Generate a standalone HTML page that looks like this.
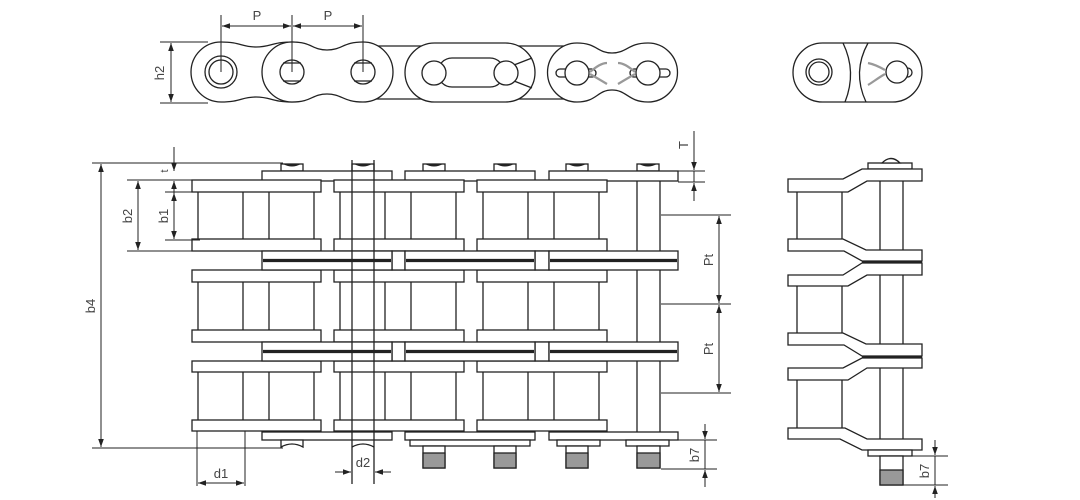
<!DOCTYPE html>
<html><head><meta charset="utf-8"><style>
html,body{margin:0;padding:0;background:#fff;width:1080px;height:500px;overflow:hidden}
svg{display:block}
text{font-family:"Liberation Sans",sans-serif;font-size:13px;fill:#444}
</style></head><body>
<svg width="1080" height="500" viewBox="0 0 1080 500" xmlns="http://www.w3.org/2000/svg">
<defs>
<marker id="a" viewBox="0 0 10 10" refX="10" refY="5" markerWidth="8" markerHeight="8" orient="auto-start-reverse" markerUnits="userSpaceOnUse"><path d="M0,1.5 L10,5 L0,8.5 Z" fill="#222"/></marker>
</defs>
<g stroke="#222" stroke-width="1.3" fill="#fff">

<!-- ===== TOP VIEW ===== -->
<!-- background links -->
<path d="M363,46 L434,46 L434,99 L363,99 Z"/>
<path d="M506,46 L577,46 L577,99 L506,99 Z"/>
<!-- link A -->
<path d="M221,42 C241,42 241,47 256,47 C271,47 272,42 292,42 A30,30 0 0 1 292,102 C272,102 271,97 256,97 C241,97 241,102 221,102 A30,30 0 0 1 221,42 Z"/>
<!-- link B -->
<path d="M292,42 C312,42 312,50 327,50 C342,50 343,42 363,42 A30,30 0 0 1 363,102 C343,102 342,94 327,94 C312,94 312,102 292,102 A30,30 0 0 1 292,42 Z"/>
<!-- stadium -->
<rect x="405" y="43" width="130" height="59" rx="29.5"/>
<rect x="438" y="58" width="66" height="29" rx="14"/>
<line x1="514" y1="65" x2="532" y2="58"/><line x1="514" y1="81" x2="532" y2="88"/>
<circle cx="434" cy="73" r="12"/><circle cx="506" cy="73" r="12"/>
<!-- link D -->
<path d="M577,43 C597,43 597,53 612,53 C627,53 628,43 648,43 A29.5,29.5 0 0 1 648,102 C628,102 627,90 612,90 C597,90 597,102 577,102 A29.5,29.5 0 0 1 577,43 Z"/>
<rect x="556" y="69" width="40" height="8" rx="4"/>
<rect x="630" y="69" width="40" height="8" rx="4"/>
<circle cx="577" cy="73" r="12"/><circle cx="648" cy="73" r="12"/>
<path d="M590,72 C597,66 602,63 607,63 M590,74 C597,78 602,81 607,84" fill="none" stroke="#999" stroke-width="2.2"/>
<path d="M635,72 C628,66 623,63 618,63 M635,74 C628,78 623,81 618,84" fill="none" stroke="#999" stroke-width="2.2"/>
<!-- holes link A/B -->
<circle cx="221" cy="72" r="16"/><circle cx="221" cy="72" r="12"/>
<circle cx="292" cy="72" r="12"/><circle cx="363" cy="72" r="12"/>
<line x1="283" y1="63" x2="301" y2="63"/><line x1="283" y1="81" x2="301" y2="81"/>
<line x1="354" y1="63" x2="372" y2="63"/><line x1="354" y1="81" x2="372" y2="81"/>
<!-- right piece -->
<rect x="793" y="43" width="129" height="59" rx="29.5"/>
<circle cx="819" cy="72" r="13"/><circle cx="819" cy="72" r="10"/>
<path d="M843,43 Q857,72 845,102 M868,43 Q852,72 866,102" fill="none"/>
<rect x="896" y="68" width="16" height="9" rx="4.5"/>
<circle cx="897" cy="72" r="11"/>
<path d="M885,70 C878,66 873,64 868,63 M885,74 C878,78 873,82 868,85" fill="none" stroke="#999" stroke-width="2.2"/>

<!-- top dims -->
<g fill="none" stroke-width="1">
<line x1="221" y1="15" x2="221" y2="72"/><line x1="292" y1="15" x2="292" y2="72"/><line x1="363" y1="15" x2="363" y2="72"/>
<line x1="222" y1="26" x2="291" y2="26" marker-start="url(#a)" marker-end="url(#a)"/>
<line x1="293" y1="26" x2="362" y2="26" marker-start="url(#a)" marker-end="url(#a)"/>
<line x1="160" y1="42" x2="208" y2="42"/><line x1="160" y1="103" x2="208" y2="103"/>
<line x1="171" y1="43" x2="171" y2="102" marker-start="url(#a)" marker-end="url(#a)"/>
</g>

<!-- ===== MAIN VIEW ===== -->
<!-- right pin -->
<line x1="637" y1="171" x2="637" y2="440"/><line x1="660" y1="171" x2="660" y2="440"/>
<!-- pin heads top -->
<g>
<rect x="281" y="164" width="22" height="7"/><rect x="352" y="164" width="22" height="7"/>
<rect x="423" y="164" width="22" height="7"/><rect x="494" y="164" width="22" height="7"/>
<rect x="566" y="164" width="22" height="7"/><rect x="637" y="164" width="22" height="7"/>
</g>
<g fill="#222" stroke="none">
<path d="M283,164 Q292,169 301,164 Z"/><path d="M354,164 Q363,169 372,164 Z"/><path d="M425,164 Q434,169 443,164 Z"/>
<path d="M496,164 Q505,169 514,164 Z"/><path d="M568,164 Q577,169 586,164 Z"/><path d="M639,164 Q648,169 657,164 Z"/>
</g>
<!-- top outer plates -->
<rect x="262" y="171" width="130" height="10"/><rect x="405" y="171" width="130" height="10"/><rect x="549" y="171" width="129" height="10"/>
<!-- rows of inner plates -->
<g id="row1">
<rect x="192" y="180" width="129" height="12"/><rect x="334" y="180" width="130" height="12"/><rect x="477" y="180" width="130" height="12"/>
<rect x="192" y="239" width="129" height="12"/><rect x="334" y="239" width="130" height="12"/><rect x="477" y="239" width="130" height="12"/>
<path d="M198,192V239M243,192V239M269,192V239M314,192V239M340,192V239M385,192V239M411,192V239M456,192V239M483,192V239M528,192V239M554,192V239M599,192V239" fill="none"/>
</g>
<g>
<rect x="192" y="270" width="129" height="12"/><rect x="334" y="270" width="130" height="12"/><rect x="477" y="270" width="130" height="12"/>
<rect x="192" y="330" width="129" height="12"/><rect x="334" y="330" width="130" height="12"/><rect x="477" y="330" width="130" height="12"/>
<path d="M198,282V330M243,282V330M269,282V330M314,282V330M340,282V330M385,282V330M411,282V330M456,282V330M483,282V330M528,282V330M554,282V330M599,282V330" fill="none"/>
</g>
<g>
<rect x="192" y="361" width="129" height="11"/><rect x="334" y="361" width="130" height="11"/><rect x="477" y="361" width="130" height="11"/>
<rect x="192" y="420" width="129" height="11"/><rect x="334" y="420" width="130" height="11"/><rect x="477" y="420" width="130" height="11"/>
<path d="M198,372V420M243,372V420M269,372V420M314,372V420M340,372V420M385,372V420M411,372V420M456,372V420M483,372V420M528,372V420M554,372V420M599,372V420" fill="none"/>
</g>
<!-- junction outer plates -->
<g>
<rect x="392" y="251" width="13" height="19"/><rect x="535" y="251" width="14" height="19"/>
<rect x="262" y="251" width="130" height="19"/><rect x="405" y="251" width="130" height="19"/><rect x="549" y="251" width="129" height="19"/>
<rect x="392" y="342" width="13" height="19"/><rect x="535" y="342" width="14" height="19"/>
<rect x="262" y="342" width="130" height="19"/><rect x="405" y="342" width="130" height="19"/><rect x="549" y="342" width="129" height="19"/>
</g>
<g stroke-width="3.2">
<path d="M263,260.5H391M406,260.5H534M550,260.5H677M263,351.5H391M406,351.5H534M550,351.5H677"/>
</g>
<!-- bottom outer plates -->
<rect x="262" y="432" width="130" height="8"/><rect x="405" y="432" width="130" height="8"/><rect x="549" y="432" width="129" height="8"/>
<!-- bottom small plates & pin ends -->
<rect x="410" y="440" width="120" height="6"/><rect x="557" y="440" width="43" height="6"/><rect x="626" y="440" width="43" height="6"/>
<rect x="423" y="446" width="22" height="22"/><rect x="494" y="446" width="22" height="22"/><rect x="566" y="446" width="22" height="22"/><rect x="637" y="446" width="23" height="22"/>
<g fill="#999"><rect x="423" y="453" width="22" height="15"/><rect x="494" y="453" width="22" height="15"/><rect x="566" y="453" width="22" height="15"/><rect x="637" y="453" width="23" height="15"/></g>
<path d="M281,447 L281,440 L303,440 L303,447 Q292,441 281,447 Z"/>
<path d="M352,447 Q363,441 374,447"/>

<!-- d2 lines -->
<g fill="none" stroke-width="1.3">
<line x1="352" y1="160" x2="352" y2="484"/><line x1="374" y1="160" x2="374" y2="484"/>
</g>

<!-- main dims -->
<g fill="none" stroke-width="1">
<line x1="92" y1="163" x2="283" y2="163"/>
<line x1="92" y1="448" x2="283" y2="448"/>
<line x1="101" y1="164" x2="101" y2="447" marker-start="url(#a)" marker-end="url(#a)"/>
<line x1="127" y1="180" x2="192" y2="180"/><line x1="127" y1="251" x2="192" y2="251"/>
<line x1="138" y1="181" x2="138" y2="250" marker-start="url(#a)" marker-end="url(#a)"/>
<line x1="165" y1="192" x2="200" y2="192"/><line x1="165" y1="240" x2="200" y2="240"/>
<line x1="174" y1="193" x2="174" y2="239" marker-start="url(#a)" marker-end="url(#a)"/>
<line x1="174" y1="147" x2="174" y2="171" marker-end="url(#a)"/>
<line x1="174" y1="181" x2="174" y2="192"/>
<line x1="174" y1="193" x2="174" y2="181" marker-end="url(#a)"/>
<line x1="197" y1="431" x2="197" y2="486"/><line x1="245" y1="431" x2="245" y2="486"/>
<line x1="198" y1="483" x2="244" y2="483" marker-start="url(#a)" marker-end="url(#a)"/>
<line x1="335" y1="472" x2="351" y2="472" marker-end="url(#a)"/>
<line x1="391" y1="472" x2="375" y2="472" marker-end="url(#a)"/>
<!-- T -->
<line x1="678" y1="171" x2="705" y2="171"/><line x1="678" y1="182" x2="705" y2="182"/>
<line x1="694" y1="131" x2="694" y2="170" marker-end="url(#a)"/>
<line x1="694" y1="201" x2="694" y2="183" marker-end="url(#a)"/>
<line x1="694" y1="171" x2="694" y2="182"/>
<!-- Pt -->
<line x1="661" y1="215" x2="731" y2="215"/><line x1="661" y1="304" x2="731" y2="304"/><line x1="661" y1="393" x2="731" y2="393"/>
<line x1="719" y1="216" x2="719" y2="303" marker-start="url(#a)" marker-end="url(#a)"/>
<line x1="719" y1="305" x2="719" y2="392" marker-start="url(#a)" marker-end="url(#a)"/>
<!-- b7 main -->
<line x1="669" y1="440" x2="717" y2="440"/><line x1="661" y1="469" x2="717" y2="469"/>
<line x1="705" y1="424" x2="705" y2="439" marker-end="url(#a)"/>
<line x1="705" y1="487" x2="705" y2="470" marker-end="url(#a)"/>
<line x1="705" y1="440" x2="705" y2="469"/>
</g>

<!-- ===== SIDE VIEW ===== -->
<line x1="880" y1="169" x2="880" y2="456"/><line x1="903" y1="169" x2="903" y2="456"/>
<path d="M797,192V239M842,192V239M797,286V333M842,286V333M797,380V428M842,380V428" fill="none"/>
<rect x="868" y="163" width="44" height="6"/>
<path d="M882,163 Q891,154 900,163 Z"/>
<path d="M788,179 L843,179 L862,169 L922,169 L922,181 L867,181 L848,192 L788,192 Z"/>
<path d="M788,239 L843,239 L866,250 L922,250 L922,261 L862,261 L844,251 L788,251 Z"/>
<path d="M862,263 L922,263 L922,275 L867,275 L848,286 L788,286 L788,275 L843,275 Z"/>
<path d="M788,333 L843,333 L866,344 L922,344 L922,356 L862,356 L844,345 L788,345 Z"/>
<path d="M862,358 L922,358 L922,368 L867,368 L848,380 L788,380 L788,368 L843,368 Z"/>
<path d="M788,428 L845,428 L867,439 L922,439 L922,450 L862,450 L840,439 L788,439 Z"/>
<path d="M862,262H922M862,357H922" stroke-width="3"/>
<rect x="868" y="450" width="44" height="6"/>
<rect x="880" y="456" width="23" height="29"/>
<rect x="880" y="470" width="23" height="15" fill="#999"/>
<g fill="none" stroke-width="1">
<line x1="912" y1="456" x2="948" y2="456"/><line x1="903" y1="485" x2="948" y2="485"/>
<line x1="935" y1="440" x2="935" y2="455" marker-end="url(#a)"/>
<line x1="935" y1="498" x2="935" y2="486" marker-end="url(#a)"/>
<line x1="935" y1="456" x2="935" y2="485"/>
</g>
</g>

<!-- labels -->
<text x="257" y="20" text-anchor="middle">P</text>
<text x="328" y="20" text-anchor="middle">P</text>
<text transform="translate(164,73) rotate(-90)" text-anchor="middle">h2</text>
<text transform="translate(95,306) rotate(-90)" text-anchor="middle">b4</text>
<text transform="translate(132,216) rotate(-90)" text-anchor="middle">b2</text>
<text transform="translate(168,216) rotate(-90)" text-anchor="middle">b1</text>
<text transform="translate(168,171) rotate(-90)" text-anchor="middle" style="font-size:11px">t</text>
<text x="221" y="478" text-anchor="middle">d1</text>
<text x="363" y="467" text-anchor="middle">d2</text>
<text transform="translate(688,145) rotate(-90)" text-anchor="middle">T</text>
<text transform="translate(713,260) rotate(-90)" text-anchor="middle">Pt</text>
<text transform="translate(713,349) rotate(-90)" text-anchor="middle">Pt</text>
<text transform="translate(699,455) rotate(-90)" text-anchor="middle">b7</text>
<text transform="translate(929,471) rotate(-90)" text-anchor="middle">b7</text>
</svg>
</body></html>
